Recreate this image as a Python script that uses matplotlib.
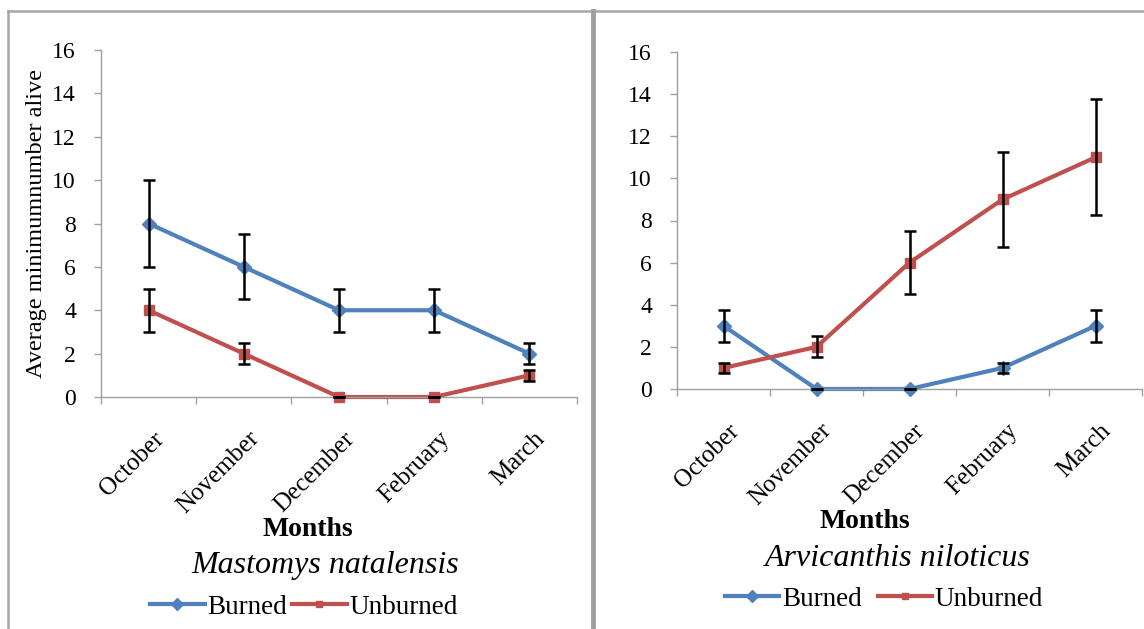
import numpy as np
import matplotlib
matplotlib.use("Agg")
import matplotlib.pyplot as plt
from matplotlib.lines import Line2D
from matplotlib.transforms import ScaledTranslation

plt.rcParams['font.family'] = ['Liberation Serif', 'DejaVu Serif']

# data
months = ["October", "November", "December", "February", "March"]

mast_burned = [8, 6, 4, 4, 2]
mast_burned_err = [2, 1.5, 1, 1, 0.5]
mast_unburned = [4, 2, 0, 0, 1]
mast_unburned_err = [1, 0.5, 0, 0, 0.25]

arv_burned = [3, 0, 0, 1, 3]
arv_burned_err = [0.75, 0, 0, 0.25, 0.75]
arv_unburned = [1, 2, 6, 9, 11]
arv_unburned_err = [0.25, 0.5, 1.5, 2.25, 2.75]

blue = "#4F81BD"
red = "#C0504D"
grey = "#a0a0a0"

W, H = 1144, 629
fig = plt.figure(figsize=(W / 100, H / 100), dpi=100)


def fx(x):
    return x / W


def fy(y):
    return 1 - y / H


# panel frames
fig.add_artist(Line2D([fx(8), fx(8)], [fy(11), fy(629)], color="#a6a6a6", lw=1.8))
fig.add_artist(Line2D([fx(8), fx(1144)], [fy(11), fy(11)], color="#a6a6a6", lw=1.8))
fig.add_artist(Line2D([fx(592.5), fx(592.5)], [fy(11), fy(629)], color="#a0a0a0", lw=3.5))


def panel(rect, burned, berr, unburned, uerr, ylabel):
    ax = fig.add_axes(rect)
    x = np.arange(len(months))
    ax.plot(x, burned, color=blue, lw=3, marker="D", ms=7.5, zorder=2)
    ax.plot(x, unburned, color=red, lw=3, marker="s", ms=6.5, zorder=2)
    ax.errorbar(x, burned, yerr=berr, fmt="none", ecolor="black", elinewidth=1.8,
                capsize=4, capthick=1.8, zorder=3)
    ax.errorbar(x, unburned, yerr=uerr, fmt="none", ecolor="black", elinewidth=1.8,
                capsize=4, capthick=1.8, zorder=3)
    ax.set_xlim(-0.5, len(months) - 0.5)
    ax.set_ylim(0, 16)
    ax.set_yticks(range(0, 17, 2))
    ax.tick_params(axis="y", labelsize=17, length=5, color=grey, width=1, pad=13)
    ax.set_xticks(x)
    ax.set_xticklabels(months, rotation=45, ha="right", va="top",
                       rotation_mode="anchor", fontsize=18)
    ax.tick_params(axis="x", which="major", length=0, pad=22)
    off = ScaledTranslation(4 / 100, 0, fig.dpi_scale_trans)
    for lab in ax.get_xticklabels():
        lab.set_transform(lab.get_transform() + off)
    ax.set_xticks(np.arange(-0.5, len(months), 1), minor=True)
    ax.tick_params(axis="x", which="minor", length=5, color=grey, width=1)
    for s in ["top", "right"]:
        ax.spines[s].set_visible(False)
    for s in ["left", "bottom"]:
        ax.spines[s].set_color(grey)
        ax.spines[s].set_linewidth(1)
    for a in ax.get_children():
        try:
            a.set_clip_on(False)
        except Exception:
            pass
    if ylabel:
        ax.set_ylabel(ylabel, fontsize=17.5, labelpad=4)
    return ax


panel([fx(101), fy(397), fx(577) - fx(101), fy(50) - fy(397)],
      mast_burned, mast_burned_err, mast_unburned, mast_unburned_err,
      "Average minimumnumber alive")
panel([fx(677), fy(389), fx(1142) - fx(677), fy(52) - fy(389)],
      arv_burned, arv_burned_err, arv_unburned, arv_unburned_err, None)

fig.text(fx(308), fy(530), "Months", fontsize=20, fontweight="bold", ha="center", va="center")
fig.text(fx(865), fy(522), "Months", fontsize=20, fontweight="bold", ha="center", va="center")
fig.text(fx(325), fy(565), "Mastomys natalensis", fontsize=23, style="italic", ha="center", va="center")
fig.text(fx(898), fy(558), "Arvicanthis niloticus", fontsize=23, style="italic", ha="center", va="center")

handles = [Line2D([], [], color=blue, lw=3, marker="D", ms=6),
           Line2D([], [], color=red, lw=3, marker="s", ms=5)]
for cx, cy, cs in [(304, 607, 0.2), (884, 599, 0.6)]:
    fig.legend(handles, ["Burned", "Unburned"], loc="center", bbox_to_anchor=(fx(cx), fy(cy)),
               ncol=2, frameon=False, fontsize=19.5, handlelength=2.0, handletextpad=0.1,
               columnspacing=cs, borderaxespad=0, borderpad=0)

fig.savefig("out.png", dpi=100)
